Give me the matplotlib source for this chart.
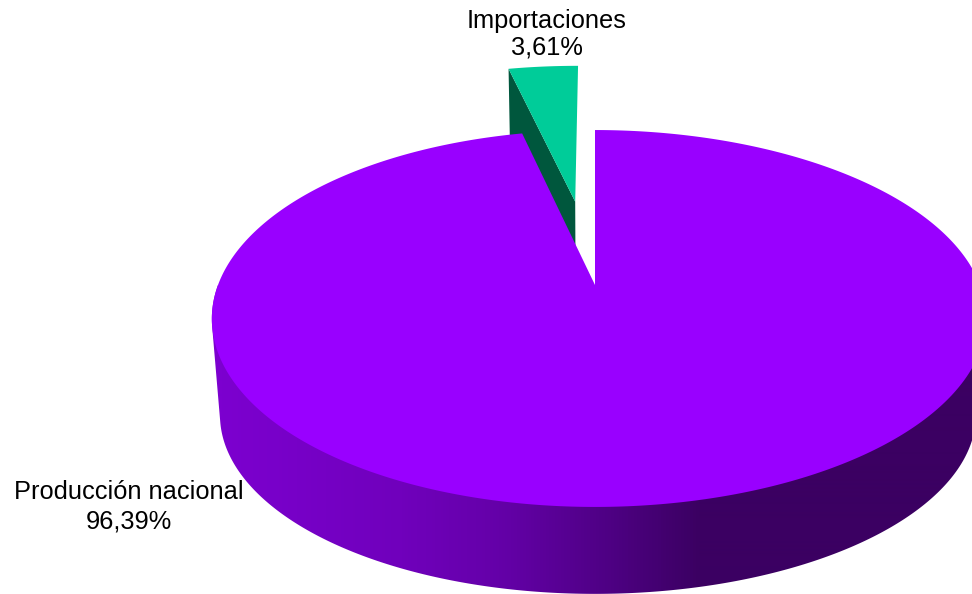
import numpy as np
import matplotlib
matplotlib.use("Agg")
import matplotlib.pyplot as plt
from matplotlib.colors import LinearSegmentedColormap
from matplotlib.patches import Polygon

categories = ["Producción nacional", "Importaciones"]
shares = [96.39, 3.61]
share_labels = ["96,39%", "3,61%"]
top_colors = ["#9900FF", "#00CC99"]
side_color_green = "#00573D"
grad_x = [220, 400, 500, 600, 700, 972]
grad_c = ["#7C00CF", "#7000BC", "#6400A8", "#500087", "#3B0062", "#3B0062"]

plt.rcParams["font.family"] = ["Liberation Sans", "DejaVu Sans"]
fig = plt.figure(figsize=(9.72, 5.94), dpi=100)
ax = fig.add_axes([0, 0, 1, 1])

C = 0.1777


def top_plane(u, v):
    d = 1 + C * v
    return 595 + (381 * u + 4 * u * u) / d, 285 - 182.5 * v / d


def low_plane(u, v):
    d = 1 + C * v
    return 595 + (372 * u + 3 * u * u) / d, 383 - 173.4 * v / d


def convex_hull(points):
    pts = sorted(map(tuple, points))

    def half(seq):
        out = []
        for p in seq:
            while len(out) >= 2 and ((out[-1][0] - out[-2][0]) * (p[1] - out[-2][1])
                                     - (out[-1][1] - out[-2][1]) * (p[0] - out[-2][0])) <= 0:
                out.pop()
            out.append(p)
        return out[:-1]

    return np.array(half(pts) + half(pts[::-1]))


# angles from the values, clockwise from north
spans = np.array(shares) / sum(shares) * 2 * np.pi
main_end = spans[0]
small_start = main_end
small_end = 2 * np.pi

# side of the main slice: horizontal gradient clipped to the rim silhouette
t = np.radians(np.linspace(90, 270, 400))
xa, ya = top_plane(np.sin(t), np.cos(t))
xb, yb = low_plane(np.sin(t), np.cos(t))
rim = Polygon(convex_hull(np.c_[np.r_[xa, xb], np.r_[ya, yb]]), closed=True,
              transform=ax.transData, fc="none", ec="none")
ax.add_patch(rim)
cmap = LinearSegmentedColormap.from_list(
    "rim", [((x - grad_x[0]) / (grad_x[-1] - grad_x[0]), c) for x, c in zip(grad_x, grad_c)])
grad = np.linspace(0, 1, 752)[None, :]
im = ax.imshow(grad, cmap=cmap, extent=(grad_x[0], grad_x[-1], 594, 100),
               aspect="auto", zorder=2, interpolation="bilinear")
# the part left of the first colour stop keeps the first colour
im2 = ax.imshow(grad[:, :1], cmap=cmap, vmin=0, vmax=1, extent=(200, grad_x[0], 594, 100),
                aspect="auto", zorder=2)
im.set_clip_path(rim)
im2.set_clip_path(rim)

# exploded slice
mid = (small_start + small_end) / 2
explode = 0.50
ex, ey = explode * np.sin(mid), explode * np.cos(mid)
t = np.linspace(small_start, small_end, 30)
u = 1.03 * np.sin(t) + ex
v = 1.03 * np.cos(t) + ey
x0, y0 = top_plane(ex, ey)
x1, y1 = low_plane(ex, ey)
xs, ys = top_plane(u, v)
xl0, yl0 = low_plane(u[0], v[0])
ax.fill([x0, xs[0], xl0, x1], [y0, ys[0], yl0, y1], color=side_color_green, lw=0, zorder=1)
ax.fill(np.r_[x0, xs], np.r_[y0, ys], color=top_colors[1], lw=0, zorder=1.5)

# top of the main slice
t = np.linspace(0, main_end, 500)
xs, ys = top_plane(np.sin(t), np.cos(t))
ax.fill(np.r_[595, xs], np.r_[285, ys], color=top_colors[0], lw=0, zorder=3)

ax.set_xlim(0, 972)
ax.set_ylim(594, 0)
ax.axis("off")

fs = 18.3
ax.text(129, 507, f"{categories[0]}\n{share_labels[0]}", ha="center", va="center",
        fontsize=fs, linespacing=1.27, color="black", zorder=5)
ax.text(547, 34, f"{categories[1]}\n{share_labels[1]}", ha="center", va="center",
        fontsize=fs, linespacing=1.13, color="black", zorder=5)

fig.savefig("out.png", dpi=100)
